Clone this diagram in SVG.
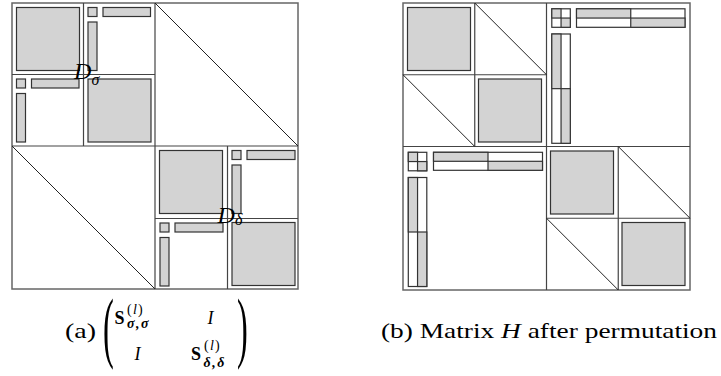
<svg xmlns="http://www.w3.org/2000/svg" width="721" height="376" viewBox="0 0 721 376">
<style>
.bg{fill:#fff}
.outer{fill:none;stroke:#666;stroke-width:1.5}
.ln{stroke:#444;stroke-width:1.2;fill:none}
.dg{stroke:#222;stroke-width:1;fill:none}
.g{fill:#d3d3d3;stroke:#333;stroke-width:1.2}
.w{fill:#fff;stroke:#333;stroke-width:1.2}
.t{font-family:"Liberation Serif","DejaVu Serif",serif;fill:#000}
.it{font-style:italic}
.b{font-weight:bold}
</style>
<rect class="bg" x="0" y="0" width="721" height="376"/>

<g id="matrix-a">
  <g id="a-grid">
    <rect class="outer" x="12" y="3" width="286" height="286"/>
    <line class="ln" x1="155" y1="3" x2="155" y2="289"/>
    <line class="ln" x1="12" y1="146" x2="298" y2="146"/>
    <line class="ln" x1="83.5" y1="3" x2="83.5" y2="146"/>
    <line class="ln" x1="12" y1="74.5" x2="155" y2="74.5"/>
    <line class="ln" x1="227.5" y1="146" x2="227.5" y2="289"/>
    <line class="ln" x1="155" y1="218.5" x2="298" y2="218.5"/>
    <line class="dg" x1="155" y1="3" x2="298" y2="146"/>
    <line class="dg" x1="12" y1="146" x2="155" y2="289"/>
  </g>
  <g id="a-blocks">
    <rect class="g" x="16.5" y="7.5" width="63" height="63"/>
    <rect class="g" x="88" y="7.5" width="9" height="9"/>
    <rect class="g" x="103" y="7.5" width="47.5" height="9"/>
    <rect class="g" x="88" y="22" width="9" height="48.5"/>
    <rect class="g" x="16.5" y="79" width="9" height="9"/>
    <rect class="g" x="31.5" y="79" width="47.5" height="9"/>
    <rect class="g" x="16.5" y="93.5" width="9" height="48.5"/>
    <rect class="g" x="88" y="79" width="63" height="63"/>
    <rect class="g" x="159.5" y="150.5" width="63" height="63"/>
    <rect class="g" x="232" y="150.5" width="9" height="9"/>
    <rect class="g" x="247" y="150.5" width="48" height="9"/>
    <rect class="g" x="232" y="165" width="9" height="48.5"/>
    <rect class="g" x="160" y="223" width="9" height="9"/>
    <rect class="g" x="175" y="223" width="48" height="9"/>
    <rect class="g" x="160" y="237.5" width="9" height="48.5"/>
    <rect class="g" x="232" y="222.5" width="63" height="63"/>
  </g>
  <g id="label-dsigma">
    <text class="t it" x="74" y="79" font-size="24">D</text>
    <text class="t it" x="91.5" y="85" font-size="16">σ</text>
  </g>
  <g id="label-ddelta">
    <text class="t it" x="217.5" y="222.5" font-size="24">D</text>
    <text class="t it" x="235" y="225" font-size="16">δ</text>
  </g>
</g>

<g id="matrix-b">
  <g id="b-grid">
    <rect class="outer" x="403" y="3" width="287" height="287"/>
    <line class="ln" x1="546.5" y1="3" x2="546.5" y2="290"/>
    <line class="ln" x1="403" y1="146.5" x2="690" y2="146.5"/>
    <line class="ln" x1="474.75" y1="3" x2="474.75" y2="146.5"/>
    <line class="ln" x1="403" y1="74.75" x2="546.5" y2="74.75"/>
    <line class="ln" x1="618.25" y1="146.5" x2="618.25" y2="290"/>
    <line class="ln" x1="546.5" y1="218.25" x2="690" y2="218.25"/>
    <line class="dg" x1="474.75" y1="3" x2="546.5" y2="74.75"/>
    <line class="dg" x1="403" y1="74.75" x2="474.75" y2="146.5"/>
    <line class="dg" x1="618.25" y1="146.5" x2="690" y2="218.25"/>
    <line class="dg" x1="546.5" y1="218.25" x2="618.25" y2="290"/>
  </g>
  <g id="b-blocks">
    <rect class="g" x="407.5" y="7.5" width="63" height="63"/>
    <rect class="g" x="478.5" y="79" width="63" height="63"/>
    <rect class="g" x="550.5" y="151" width="63" height="63"/>
    <rect class="g" x="622" y="222.5" width="63" height="63"/>
  </g>
  <g id="b-split-tr">
    <rect class="w" x="551.8" y="8.8" width="18.5" height="18.5"/>
    <rect class="g" x="551.8" y="8.8" width="9.25" height="9.25"/>
    <rect class="g" x="561.05" y="18.05" width="9.25" height="9.25"/>
    <rect class="w" x="576.5" y="8.8" width="108.5" height="18.5"/>
    <rect class="g" x="576.5" y="8.8" width="54.25" height="9.25"/>
    <rect class="g" x="630.75" y="18.05" width="54.25" height="9.25"/>
    <rect class="w" x="551.8" y="34" width="18.5" height="109.3"/>
    <rect class="g" x="551.8" y="34" width="9.25" height="54.65"/>
    <rect class="g" x="561.05" y="88.65" width="9.25" height="54.65"/>
  </g>
  <g id="b-split-bl">
    <rect class="w" x="408.3" y="152.3" width="18.5" height="18.5"/>
    <rect class="g" x="408.3" y="152.3" width="9.25" height="9.25"/>
    <rect class="g" x="417.55" y="161.55" width="9.25" height="9.25"/>
    <rect class="w" x="433.5" y="152.3" width="109" height="18"/>
    <rect class="g" x="433.5" y="152.3" width="54.5" height="9"/>
    <rect class="g" x="488" y="161.3" width="54.5" height="9"/>
    <rect class="w" x="408.3" y="177.5" width="18.5" height="109"/>
    <rect class="g" x="408.3" y="177.5" width="9.25" height="54.5"/>
    <rect class="g" x="417.55" y="232" width="9.25" height="54.5"/>
  </g>
</g>

<g id="caption-a">
  <text class="t" x="65" y="338" font-size="22" textLength="31" lengthAdjust="spacingAndGlyphs">(a)</text>
  <text class="t" x="0" y="0" font-size="24" transform="translate(103,353) scale(1.35,3.25)">(</text>
  <text class="t" x="0" y="0" font-size="24" transform="translate(237,353) scale(1.35,3.25)">)</text>
  <text class="t b" x="114.5" y="323.5" font-size="18">S</text>
  <text class="t" x="127" y="314" font-size="14" letter-spacing="1.2">(<tspan class="it">l</tspan>)</text>
  <text class="t b it" x="127" y="328" font-size="14" letter-spacing="1.5">σ,σ</text>
  <text class="t it" x="207.5" y="323.5" font-size="18">I</text>
  <text class="t it" x="134.5" y="360" font-size="18">I</text>
  <text class="t b" x="191" y="360" font-size="18">S</text>
  <text class="t" x="204" y="350" font-size="14" letter-spacing="1.2">(<tspan class="it">l</tspan>)</text>
  <text class="t b it" x="203.5" y="367" font-size="14" letter-spacing="1.5">δ,δ</text>
</g>

<g id="caption-b">
  <text class="t" x="381" y="338" font-size="22" textLength="336" lengthAdjust="spacingAndGlyphs">(b) Matrix <tspan class="it">H</tspan> after permutation</text>
</g>
</svg>
